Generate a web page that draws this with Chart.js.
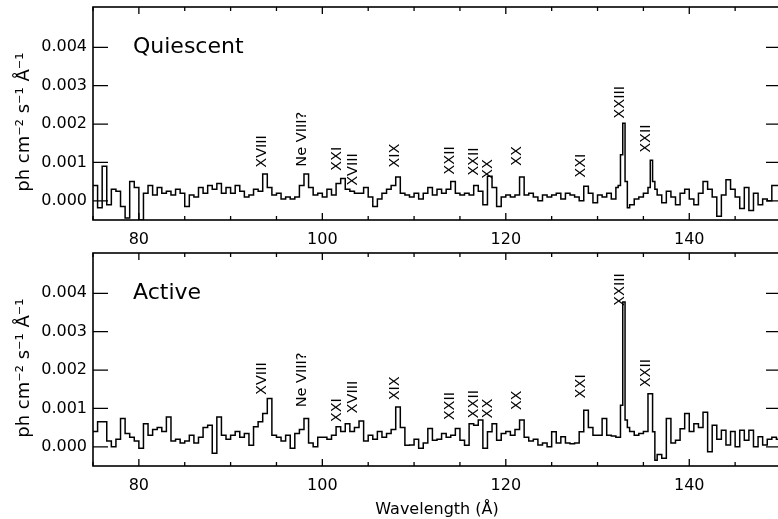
<!DOCTYPE html>
<html><head><meta charset="utf-8">
<script src="https://cdn.jsdelivr.net/npm/chart.js@4"></script>
<style>
html,body{margin:0;padding:0;background:#fff;overflow:hidden;width:778px;height:519px}
#wrap{position:relative;width:778px;height:519px;overflow:hidden;background:#fff}
canvas{position:absolute;left:0}
#c1{top:0}
#c2{top:250px}
</style></head><body>
<div id="wrap"><canvas id="c1" width="800" height="250"></canvas><canvas id="c2" width="800" height="269"></canvas></div>
<script>
// Wavelength bin starts (Å)
const wavelength = [
75.0,75.5,76.0,76.5,77.0,77.5,78.0,78.5,79.0,79.5,
80.0,80.5,81.0,81.5,82.0,82.5,83.0,83.5,84.0,84.5,
85.0,85.5,86.0,86.5,87.0,87.5,88.0,88.5,89.0,89.5,
90.0,90.5,91.0,91.5,92.0,92.5,93.0,93.5,94.0,94.5,
95.0,95.5,96.0,96.5,97.0,97.5,98.0,98.5,99.0,99.5,
100.0,100.5,101.0,101.5,102.0,102.5,103.0,103.5,104.0,104.5,
105.0,105.5,106.0,106.5,107.0,107.5,108.0,108.5,109.0,109.5,
110.0,110.5,111.0,111.5,112.0,112.5,113.0,113.5,114.0,114.5,
115.0,115.5,116.0,116.5,117.0,117.5,118.0,118.5,119.0,119.5,
120.0,120.5,121.0,121.5,122.0,122.5,123.0,123.5,124.0,124.5,
125.0,125.5,126.0,126.5,127.0,127.5,128.0,128.5,129.0,129.5,
130.0,130.5,131.0,131.5,132.0,
132.25,132.5,132.75,133.0,133.25,133.5,
134.0,134.5,135.0,135.5,135.75,136.0,136.25,136.5,
137.0,137.5,138.0,138.5,139.0,139.5,140.0,140.5,141.0,141.5,142.0,142.5,143.0,
143.5,144.0,144.5,145.0,145.5,146.0,146.5,147.0,147.5,148.0,148.5,149.0,149.5,
150.0];

// Flux in units of 0.001 ph cm^-2 s^-1 Å^-1
const fluxQuiescent = [
0.4,-0.18,0.9,-0.1,0.3,0.25,-0.15,-0.45,0.5,0.35,
-0.5,0.2,0.4,0.15,0.35,0.2,0.25,0.15,0.3,0.2,
-0.15,0.15,0.1,0.35,0.2,0.4,0.3,0.45,0.2,0.35,
0.2,0.4,0.25,0.1,0.15,0.3,0.25,0.7,0.35,0.15,
0.2,0.05,0.1,0.05,0.1,0.4,0.7,0.35,0.15,0.2,
0.1,0.3,0.15,0.45,0.58,0.3,0.25,0.2,0.2,0.35,
0.1,-0.15,0.05,0.2,0.3,0.4,0.62,0.2,0.15,0.1,
0.2,0.05,0.2,0.35,0.15,0.3,0.2,0.3,0.5,0.2,
0.15,0.2,0.15,0.4,0.25,-0.1,0.64,0.35,-0.15,0.1,
0.15,0.1,0.15,0.62,0.15,0.2,0.1,0.0,0.15,0.1,
0.15,0.2,0.05,0.2,0.15,0.1,0.0,0.38,0.2,-0.05,
0.15,0.1,0.2,0.05,0.35,
0.4,1.2,2.02,0.5,-0.18,-0.1,
0.05,0.1,0.2,0.35,1.06,0.5,0.3,0.15,
-0.05,0.25,0.1,-0.1,0.2,0.3,0.05,-0.1,0.2,0.5,0.3,0.1,-0.4,
0.15,0.55,0.3,0.1,-0.2,0.35,-0.25,0.2,-0.1,0.05,0.0,0.4,0.4,
0.4];

const fluxActive = [
0.4,0.65,0.65,0.15,0.0,0.2,0.74,0.35,0.25,0.15,
-0.04,0.6,0.3,0.45,0.5,0.4,0.78,0.15,0.2,0.1,
0.15,0.3,0.1,0.25,0.5,0.56,-0.17,0.78,0.3,0.2,
0.3,0.4,0.25,0.35,0.04,0.52,0.65,0.87,1.26,0.3,
0.25,0.15,0.3,-0.04,0.35,0.45,0.74,0.1,0.0,0.25,
0.25,0.2,0.3,0.52,0.4,0.6,0.4,0.5,0.67,0.15,
0.3,0.2,0.4,0.25,0.35,0.45,1.04,0.5,0.04,0.05,
0.2,-0.04,0.1,0.48,0.17,0.2,0.35,0.25,0.3,0.48,
0.17,0.04,0.6,0.56,0.7,-0.04,0.39,0.6,0.17,0.35,
0.4,0.3,0.45,0.7,0.25,0.15,0.2,0.05,0.1,0.0,
0.39,0.1,0.26,0.1,0.08,0.1,0.39,0.95,0.5,0.3,
0.3,0.74,0.3,0.28,0.25,
0.25,1.08,3.77,0.7,0.5,0.4,
0.3,0.35,0.4,1.38,1.38,0.39,-0.35,-0.2,
-0.3,0.74,0.1,0.17,0.47,0.87,0.4,0.6,0.5,0.9,-0.13,0.56,0.2,
0.43,0.05,0.4,0.0,0.43,0.17,0.43,0.0,0.26,0.05,0.2,0.25,0.2,
0.2];

const xTickLabels = [80, 100, 120, 140];
const yTickLabels = [0, 1, 2, 3, 4];

// Line identification labels: text, wavelength, flux level of the label's lower end
const ionNames = ['XVIII','Ne VIII?','XXI','XVIII','XIX','XXII','XXII','XX','XX','XXI','XXIII','XXII'];
const ionWavelengths = [93.5,97.8,101.6,103.4,107.9,113.9,116.6,118.1,121.2,128.2,132.5,135.3];
const ionLevelQuiescent = [0.86,0.89,0.78,0.39,0.86,0.68,0.65,0.57,0.91,0.60,2.14,1.25];
const ionLevelActive = [1.35,1.03,0.64,0.87,1.21,0.69,0.74,0.74,0.95,1.26,3.67,1.55];

const FONT = "'DejaVu Sans', sans-serif";

const framePlugin = {
  id: 'frame',
  afterDraw(chart) {
    const ctx = chart.ctx, a = chart.chartArea;
    const xs = chart.scales.x, ys = chart.scales.y;
    ctx.save();
    ctx.strokeStyle = '#000';
    ctx.lineWidth = 1.6;
    ctx.strokeRect(a.left, a.top, a.right - a.left, a.bottom - a.top);
    ctx.lineWidth = 1.3;
    ctx.beginPath();
    for (let v = 75; v <= 150; v += 5) {
      const px = xs.getPixelForValue(v);
      const len = (v % 20 === 0) ? 7 : 4;
      ctx.moveTo(px, a.bottom); ctx.lineTo(px, a.bottom - len);
      ctx.moveTo(px, a.top); ctx.lineTo(px, a.top + len);
    }
    yTickLabels.forEach(v => {
      const py = ys.getPixelForValue(v);
      ctx.moveTo(a.left, py); ctx.lineTo(a.left + 15, py);
      ctx.moveTo(a.right, py); ctx.lineTo(a.right - 15, py);
    });
    ctx.stroke();
    // ion labels
    const levels = chart.options.plugins.frame.levels;
    ctx.fillStyle = '#000';
    ctx.font = '14.5px ' + FONT;
    ctx.textAlign = 'left';
    ctx.textBaseline = 'middle';
    ionNames.forEach((t, i) => {
      const px = xs.getPixelForValue(ionWavelengths[i]);
      const py = ys.getPixelForValue(levels[i]);
      ctx.save();
      ctx.translate(px, py);
      ctx.rotate(-Math.PI / 2);
      ctx.fillText(t, 0, 0);
      ctx.restore();
    });
    // panel title
    ctx.font = '22px ' + FONT;
    ctx.textBaseline = 'middle';
    ctx.fillText(chart.options.plugins.frame.title, a.left + 40, ys.getPixelForValue(4));
    ctx.restore();
  }
};

function makeChart(id, flux, levels, title, isBottom) {
  const padTop = isBottom ? 3 : 7;
  const padBottom = 0;
  const xAxisH = isBottom ? 53 : 30;
  return new Chart(document.getElementById(id), {
    type: 'line',
    data: {
      datasets: [{
        data: wavelength.map((x, i) => ({x: x, y: flux[i]})),
        stepped: true,
        borderColor: '#000',
        borderWidth: 1.5,
        pointRadius: 0,
        fill: false
      }]
    },
    options: {
      responsive: false,
      animation: false,
      layout: {padding: {left: 14, right: 19, top: padTop, bottom: padBottom}},
      plugins: {
        legend: {display: false},
        tooltip: {enabled: false},
        frame: {levels: levels, title: title}
      },
      scales: {
        x: {
          type: 'linear', min: 75, max: 150,
          grid: {display: false, drawTicks: false},
          border: {display: false},
          ticks: {font: {family: FONT, size: 16}, color: '#000', padding: 10, maxRotation: 0,
                  callback: v => String(v)},
          afterBuildTicks: s => { s.ticks = xTickLabels.map(v => ({value: v})); },
          afterFit: s => { s.height = xAxisH; s.paddingLeft = 0; s.paddingRight = 0; },
          title: {display: isBottom, text: 'Wavelength (Å)', color: '#000', padding: 0,
                  font: {family: FONT, size: 16}}
        },
        y: {
          type: 'linear', min: -0.5, max: 5.05,
          grid: {display: false, drawTicks: false},
          border: {display: false},
          ticks: {font: {family: FONT, size: 16}, color: '#000', padding: 6,
                  callback: v => (v / 1000).toFixed(3)},
          afterBuildTicks: s => { s.ticks = yTickLabels.map(v => ({value: v})); },
          afterFit: s => { s.width = 79; s.paddingTop = 0; s.paddingBottom = 0; },
          title: {display: true, text: 'ph cm\u207B\u00B2 s\u207B\u00B9 \u00C5\u207B\u00B9   ', color: '#000', padding: 0,
                  font: {family: FONT, size: 18}}
        }
      }
    },
    plugins: [framePlugin]
  });
}

makeChart('c1', fluxQuiescent, ionLevelQuiescent, 'Quiescent', false);
makeChart('c2', fluxActive, ionLevelActive, 'Active', true);
</script>
</body></html>
